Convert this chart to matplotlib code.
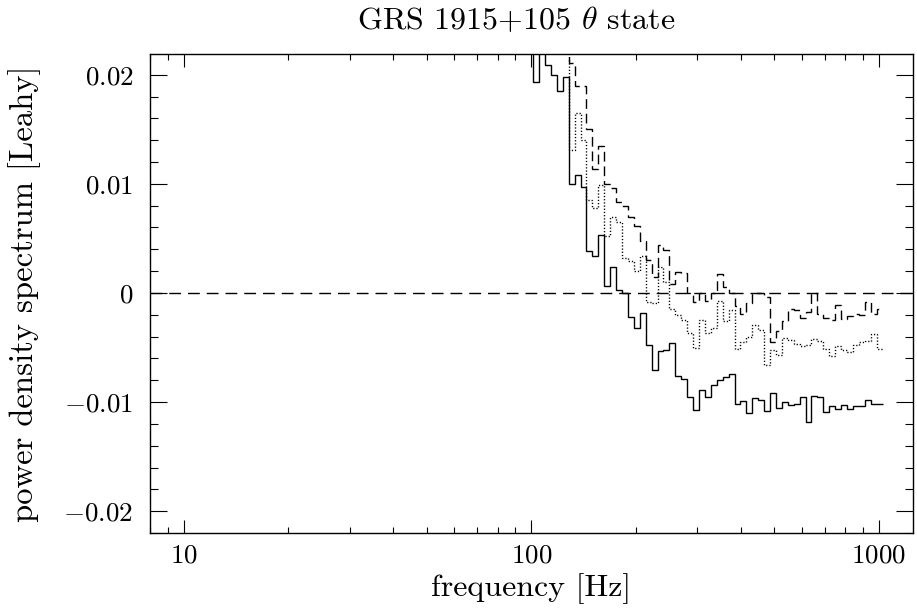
import numpy as np
import matplotlib
matplotlib.use("Agg")
import matplotlib.pyplot as plt
from matplotlib.ticker import FixedLocator, NullFormatter

plt.rcParams['font.family'] = ['cmr10', 'DejaVu Serif']
plt.rcParams['mathtext.fontset'] = 'cm'
plt.rcParams['axes.unicode_minus'] = True
plt.rcParams['lines.scale_dashes'] = False

# bin centre frequencies [Hz]
freq = [99.2, 103.2, 107.3, 111.6, 116.1, 120.7, 125.6, 130.6, 135.8, 141.3, 146.9,
        152.8, 158.9, 165.3, 171.9, 178.8, 185.9, 193.4, 201.1, 209.2, 217.5,
        226.2, 235.3, 244.7, 254.5, 264.7, 275.2, 286.3, 297.7, 309.6, 322.0,
        334.9, 348.3, 362.2, 376.7, 391.8, 407.5, 423.8, 440.7, 458.3, 476.7,
        495.7, 515.6, 536.2, 557.6, 579.9, 603.1, 627.3, 652.3, 678.4, 705.6,
        733.8, 763.2, 793.7, 825.4, 858.4, 892.8, 928.5, 965.6, 1004.3]

# solid curve (values above 0.022 run off the top of the plot)
pds_solid = [0.030, 0.0193, 0.030, 0.0209, 0.0200, 0.0185, 0.0198, 0.0100, 0.0108, 0.0097, 0.0038,
             0.0034, 0.0053, 0.0006, 0.0024, 0.0003, 0.0000, -0.0022, -0.0032, -0.0018, -0.0048,
             -0.0071, -0.0053, -0.0052, -0.0046, -0.0076, -0.0079, -0.0095, -0.0107, -0.0089, -0.0095,
             -0.0084, -0.0080, -0.0077, -0.0074, -0.0102, -0.0099, -0.0110, -0.0096, -0.0098, -0.0108,
             -0.0092, -0.0105, -0.0100, -0.0103, -0.0102, -0.0095, -0.0118, -0.0094, -0.0095, -0.0109,
             -0.0104, -0.0106, -0.0103, -0.0106, -0.0104, -0.0104, -0.0098, -0.0102, -0.0102]

pds_dotted = [0.030, 0.030, 0.030, 0.030, 0.030, 0.030, 0.030, 0.0131, 0.0165, 0.0140, 0.0085,
              0.0078, 0.0099, 0.0052, 0.0070, 0.0065, 0.0032, 0.0029, 0.0020, 0.0034, -0.0008,
              -0.0009, 0.0024, 0.0010, -0.0015, -0.0020, -0.0025, -0.0037, -0.0050, -0.0025, -0.0037,
              -0.0032, -0.0007, -0.0026, -0.0016, -0.0051, -0.0045, -0.0040, -0.0029, -0.0034, -0.0066,
              -0.0052, -0.0057, -0.0041, -0.0043, -0.0047, -0.0049, -0.0048, -0.0042, -0.0044, -0.0051,
              -0.0058, -0.0049, -0.0052, -0.0054, -0.0048, -0.0045, -0.0044, -0.0038, -0.0051]

pds_dashed = [0.030, 0.030, 0.030, 0.030, 0.030, 0.030, 0.030, 0.0211, 0.0190, 0.0190, 0.0150,
              0.0114, 0.0135, 0.0100, 0.0096, 0.0083, 0.0080, 0.0070, 0.0061, 0.0048, 0.0030,
              0.0015, 0.0044, 0.0039, 0.0008, 0.0019, 0.0018, 0.0000, -0.0008, 0.0000, -0.0007,
              0.0000, 0.0017, 0.0005, 0.0000, -0.0012, -0.0019, -0.0009, 0.0000, 0.0000, -0.0004,
              -0.0045, -0.0035, -0.0026, -0.0015, -0.0016, -0.0023, -0.0017, 0.0000, -0.0019, -0.0023,
              -0.0025, -0.0011, -0.0024, -0.0021, -0.0019, -0.0020, -0.0008, -0.0019, -0.0015]

ytick_vals = [-0.02, -0.01, 0.0, 0.01, 0.02]
ytick_labels = ['$-0.02$', '$-0.01$', '$0$', '$0.01$', '$0.02$']
xtick_vals = [10, 100, 1000]
xtick_labels = ['$10$', '$100$', '$1000$']

fc = np.array(freq)
mids = np.sqrt(fc[:-1] * fc[1:])
edges = np.concatenate([[fc[0] ** 2 / mids[0]], mids, [fc[-1] ** 2 / mids[-1]]])

W, H = 917, 609
fig = plt.figure(figsize=(W / 100, H / 100), dpi=100)
ax = fig.add_axes([150 / W, 1 - 533 / H, (913 - 150) / W, (533 - 54) / H])

lw = 1.0
ax.stairs(pds_solid, edges, baseline=None, color='black', lw=lw, linestyle='-')
ax.stairs(pds_dotted, edges, baseline=None, color='black', lw=lw, linestyle=(0, (0.9, 1.4)))
ax.stairs(pds_dashed, edges, baseline=None, color='black', lw=lw, linestyle=(0, (7.0, 3.5)))
ax.axhline(0.0, color='black', lw=lw, linestyle=(0, (8.5, 5.0)))

ax.set_xscale('log')
ax.set_xlim(8.0, 1253)
ax.set_ylim(-0.022, 0.0219)

ax.set_xticks(xtick_vals)
ax.set_xticklabels(xtick_labels)
ax.xaxis.set_minor_locator(FixedLocator([m * 10 ** d for d in range(0, 4) for m in range(2, 10)]))
ax.xaxis.set_minor_formatter(NullFormatter())
ax.set_yticks(ytick_vals)
ax.set_yticklabels(ytick_labels)
ax.yaxis.set_minor_locator(FixedLocator(np.arange(-0.022, 0.0221, 0.002)))

ax.tick_params(axis='both', which='both', direction='in', top=True, right=True, width=0.8,
               labelsize=19.5, colors='black')
ax.tick_params(axis='y', which='major', length=12.2, pad=12)
ax.tick_params(axis='y', which='minor', length=5.8)
ax.tick_params(axis='x', which='major', length=9.4, pad=8)
ax.tick_params(axis='x', which='minor', length=4.3)
for s in ax.spines.values():
    s.set_linewidth(1.0)

ax.set_xlabel('frequency [Hz]', fontsize=23)
ax.xaxis.set_label_coords(0.5, -(596 - 533) / (533 - 54))
ax.xaxis.label.set_va('baseline')
ax.set_ylabel('power density spectrum [Leahy]', fontsize=23.5)
ax.yaxis.set_label_coords(-(150 - 33) / (913 - 150), 0.5)
ax.yaxis.label.set_va('baseline')

fig.text(516 / W, 1 - 29 / H, r'GRS 1915+105 $\theta$ state', ha='center', va='baseline', fontsize=23)

fig.savefig('out.png', dpi=100)
